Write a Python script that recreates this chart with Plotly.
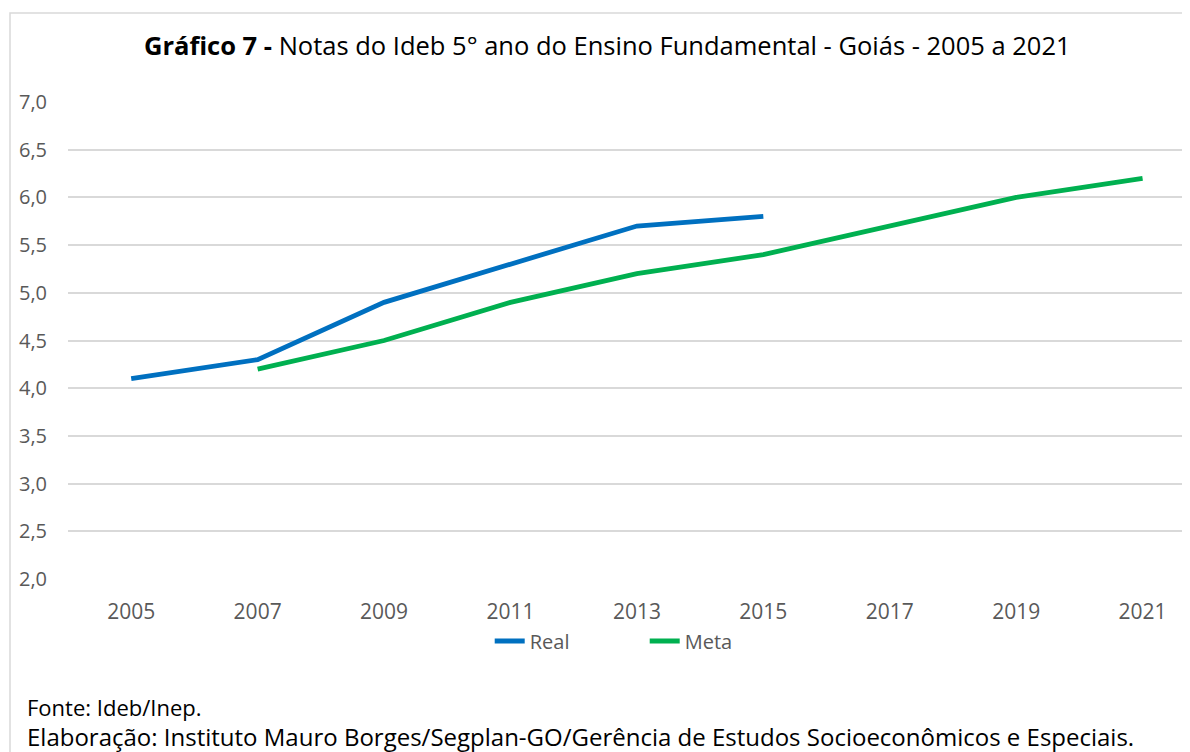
import plotly.graph_objects as go

years = [2005, 2007, 2009, 2011, 2013, 2015, 2017, 2019, 2021]
real_years = [2005, 2007, 2009, 2011, 2013, 2015]
real_values = [4.1, 4.3, 4.9, 5.3, 5.7, 5.8]
meta_years = [2007, 2009, 2011, 2013, 2015, 2017, 2019, 2021]
meta_values = [4.2, 4.5, 4.9, 5.2, 5.4, 5.7, 6.0, 6.2]
y_ticks = [2.0, 2.5, 3.0, 3.5, 4.0, 4.5, 5.0, 5.5, 6.0, 6.5, 7.0]

FONT = "Open Sans, Noto Sans, sans-serif"

fig = go.Figure()
fig.add_trace(go.Scatter(x=real_years, y=real_values, name="Real", mode="lines",
                         line=dict(color="#0070C0", width=4.8)))
fig.add_trace(go.Scatter(x=meta_years, y=meta_values, name="Meta", mode="lines",
                         line=dict(color="#00B050", width=4.8)))

# the page body has an 8px margin: the figure is shifted to compensate
fig.update_layout(
    width=1182, height=744,
    margin=dict(l=60, r=0, t=94, b=173),
    paper_bgcolor="white", plot_bgcolor="white",
    separators=",.",
    font=dict(family=FONT, size=20, color="#595959"),
    showlegend=True,
    legend=dict(orientation="h", x=0.514, xanchor="center", y=-0.13, yanchor="middle",
                font=dict(family=FONT, size=20, color="#595959"), entrywidth=110),
    xaxis=dict(range=[2004, 2021.75], tickvals=years, ticktext=[str(y) for y in years],
               showgrid=False, zeroline=False, showline=False, ticks="",
               ticklabelstandoff=18, tickfont=dict(family=FONT, size=21, color="#595959")),
    yaxis=dict(range=[2, 7], tickvals=y_ticks, tickformat=".1f",
               showgrid=True, gridcolor="#D9D9D9", gridwidth=1.5, zeroline=False,
               showline=False, ticks="", ticklabelstandoff=20,
               tickfont=dict(family=FONT, size=20, color="#595959")),
)

fig.add_shape(type="rect", xref="paper", yref="paper", x0=-0.0517, x1=1.1, y0=-0.6, y1=1.1866,
              line=dict(color="#D9D9D9", width=1.5), fillcolor="rgba(0,0,0,0)", layer="below")

fig.add_annotation(xref="paper", yref="paper", x=0.481, y=1.119, xanchor="center", yanchor="middle",
                   showarrow=False,
                   text="<b>Gráfico 7 -</b> Notas do Ideb 5° ano do Ensino Fundamental - Goiás - 2005 a 2021",
                   font=dict(family=FONT, size=25.5, color="#000000"))
fig.add_annotation(xref="paper", yref="paper", x=-0.038, y=-0.268, xanchor="left", yanchor="middle",
                   showarrow=False, text="Fonte: Ideb/Inep.",
                   font=dict(family=FONT, size=22, color="#000000"))
fig.add_annotation(xref="paper", yref="paper", x=-0.038, y=-0.331, xanchor="left", yanchor="middle",
                   showarrow=False,
                   text="Elaboração: Instituto Mauro Borges/Segplan-GO/Gerência de Estudos Socioeconômicos e Especiais.",
                   font=dict(family=FONT, size=24, color="#000000"))

fig.write_html("out.html")
